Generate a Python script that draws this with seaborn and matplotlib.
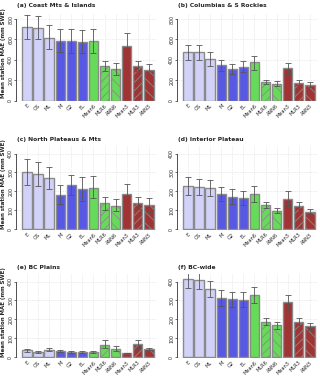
import matplotlib
matplotlib.use("Agg")
import matplotlib.pyplot as plt
import seaborn as sns
import pandas as pd

# Model labels and colours
models = ["E", "GS", "ML", "M", "G2", "EL", "Mean6", "MLR6", "ANN6", "Mean3", "MLR3", "ANN3"]
colors = ["#ccccff"] * 3 + ["#4040ff"] * 3 + ["#55f044"] * 3 + ["#b22222"] * 3
hatches = ["", "", "", "", "", "", "", "////", "\\\\\\", "", "////", "\\\\\\"]

# Mean station MAE (mm SWE) with error bar bounds
coast_mae = [719, 715, 618, 582, 585, 573, 582, 335, 312, 540, 335, 302]
coast_lo = [605, 600, 504, 475, 472, 465, 463, 290, 251, 426, 293, 254]
coast_hi = [839, 835, 738, 700, 700, 690, 705, 387, 371, 660, 387, 358]

columbia_mae = [475, 475, 407, 348, 309, 329, 378, 179, 166, 320, 176, 156]
columbia_lo = [397, 397, 335, 290, 258, 276, 302, 159, 146, 262, 153, 137]
columbia_hi = [549, 549, 473, 403, 361, 384, 439, 202, 189, 371, 202, 180]

north_mae = [302, 291, 270, 181, 232, 211, 218, 139, 123, 184, 139, 128]
north_lo = [235, 230, 212, 133, 179, 147, 165, 104, 95, 130, 107, 91]
north_hi = [370, 358, 328, 235, 288, 275, 279, 170, 158, 240, 170, 165]

interior_mae = [228, 223, 219, 186, 172, 163, 186, 128, 98, 161, 125, 93]
interior_lo = [179, 179, 177, 149, 133, 128, 146, 111, 84, 121, 109, 77]
interior_hi = [274, 268, 263, 225, 211, 200, 230, 142, 112, 200, 142, 109]

plains_mae = [37, 26, 40, 32, 28, 28, 28, 67, 46, 23, 70, 44]
plains_lo = [28, 21, 32, 26, 25, 25, 23, 47, 35, 21, 47, 39]
plains_hi = [46, 32, 49, 37, 32, 33, 32, 89, 58, 25, 93, 49]

bcwide_mae = [412, 407, 363, 314, 307, 304, 328, 189, 168, 291, 188, 163]
bcwide_lo = [365, 360, 321, 272, 268, 265, 286, 172, 149, 247, 168, 142]
bcwide_hi = [458, 453, 404, 354, 347, 346, 370, 207, 186, 330, 207, 182]

panels = [
    ("(a) Coast Mts & Islands", coast_mae, coast_lo, coast_hi, 800),
    ("(b) Columbias & S Rockies", columbia_mae, columbia_lo, columbia_hi, 800),
    ("(c) North Plateaus & Mts", north_mae, north_lo, north_hi, 400),
    ("(d) Interior Plateau", interior_mae, interior_lo, interior_hi, 400),
    ("(e) BC Plains", plains_mae, plains_lo, plains_hi, 400),
    ("(f) BC-wide", bcwide_mae, bcwide_lo, bcwide_hi, 400),
]

sns.set_theme(style="white")
plt.rcParams["font.family"] = ["DejaVu Sans"]
plt.rcParams["hatch.linewidth"] = 0.6
plt.rcParams["hatch.color"] = "#222222"

W, H = 320, 381
fig = plt.figure(figsize=(W / 100, H / 100), dpi=100)

# axes boxes in pixels: (left, top, bottom)
lefts = [16, 177]
rows = [(13, 101), (146, 229.7), (274, 357.7)]
ax_w = 141

for i, (title, mae, lo, hi, ymax) in enumerate(panels):
    r, c = divmod(i, 2)
    top, bot = rows[r]
    ax = fig.add_axes([lefts[c] / W, 1 - bot / H, ax_w / W, (bot - top) / H])

    df = pd.DataFrame({"model": models, "mae": mae})
    sns.barplot(data=df, x="model", y="mae", hue="model", palette=colors,
                order=models, legend=False, width=0.85, ax=ax,
                edgecolor="#8a8a8a", linewidth=1.0, errorbar=None)
    for patch, h in zip(ax.patches, hatches):
        patch.set_hatch(h)

    xs = list(range(len(models)))
    yerr = [[m - l for m, l in zip(mae, lo)], [u - m for m, u in zip(mae, hi)]]
    ax.errorbar(xs, mae, yerr=yerr, fmt="none", ecolor="#555555",
                elinewidth=0.6, capsize=2.2, capthick=0.6, zorder=5)

    top_lim = 860 if ymax == 800 else 440
    ax.set_xlim(-1.0, 11.74)
    ax.set_ylim(-top_lim * 0.005, top_lim)
    step = ymax // 4
    ticks = list(range(0, ymax + 1, step))
    ax.set_yticks(ticks)
    ax.set_yticklabels([str(t) for t in ticks], rotation=90, va="center",
                       fontsize=3.4)
    ax.set_xticks(xs)
    ax.set_xticklabels(models, rotation=45, ha="right", rotation_mode="anchor",
                       fontsize=3.6)
    ax.tick_params(axis="x", length=0, pad=1.5)
    ax.tick_params(axis="y", length=1.5, width=0.5, pad=0.5, left=True, color="#333333")

    for s in ["top", "right", "bottom"]:
        ax.spines[s].set_visible(False)
    ax.spines["left"].set_bounds(0, ymax)
    ax.spines["left"].set_linewidth(0.6)
    ax.spines["left"].set_color("#333333")

    for t in ticks:
        ax.axhline(t, color="#d8d8d8", lw=0.5, ls=(0, (1, 1.5)), zorder=0)
    for x in xs:
        ax.axvline(x, color="#d8d8d8", lw=0.5, ls=(0, (1, 1.5)), zorder=0)
    ax.set_axisbelow(True)

    ax.set_xlabel("")
    ax.set_ylabel("")
    if c == 0:
        mid = (top + bot) / 2 - 4
        fig.text(3.2 / W, 1 - mid / H, "Mean station MAE (mm SWE)", fontsize=4.0,
                 fontweight="bold", rotation=90, va="center", ha="center")

    fig.text((lefts[c] + 1) / W, 1 - (top - 7) / H, title, fontsize=4.3,
             fontweight="bold", va="center", ha="left")

fig.savefig("out.png", dpi=100)
